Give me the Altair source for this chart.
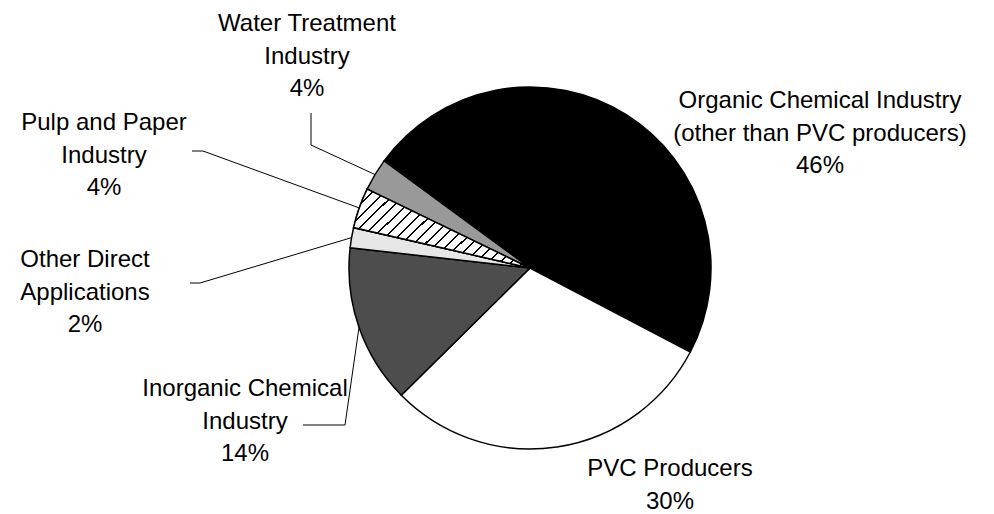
import math
import altair as alt
import pandas as pd

# ---------------- data ----------------
categories = [
    "Organic Chemical Industry",
    "PVC Producers",
    "Inorganic Chemical Industry",
    "Other Direct Applications",
    "Pulp and Paper Industry",
    "Water Treatment Industry",
]
shares = [47.6, 29.9, 14.2, 1.8, 3.6, 2.9]
label_texts = [
    "Organic Chemical Industry\n(other than PVC producers)\n46%",
    "PVC Producers\n30%",
    "Inorganic Chemical\nIndustry\n14%",
    "Other Direct\nApplications\n2%",
    "Pulp and Paper\nIndustry\n4%",
    "Water Treatment\nIndustry\n4%",
]

# ---------------- layout / style ----------------
slice_colors = ["#000000", "#ffffff", "#4d4d4d", "#e6e6e6", "#ffffff", "#999999"]
W, H = 978, 498          # plot area (page has 8px margin)
CX, CY, R = 530, 268, 181  # pie centre / radius in page pixels
START_DEG = 306.3
start_rad = math.radians(START_DEG)

# position of the first text line's centre
label_pos = {
    "Organic Chemical Industry": (820, 101),
    "PVC Producers": (670, 469),
    "Inorganic Chemical Industry": (245, 389),
    "Other Direct Applications": (85, 260),
    "Pulp and Paper Industry": (104, 123),
    "Water Treatment Industry": (307, 24),
}
leader_bends = {
    "Water Treatment Industry": [(311, 145), (311, 113)],
    "Pulp and Paper Industry": [(203, 151), (192, 151)],
    "Other Direct Applications": [(200, 283), (190, 283)],
    "Inorganic Chemical Industry": [(345, 425), (303, 425)],
}

# ---------------- tables ----------------
pie_df = pd.DataFrame({"cat": categories, "share": shares, "idx": list(range(len(categories)))})

total = sum(shares)
rows = []
cum = 0.0
for cat, s in zip(categories, shares):
    mid = cum + s / 2
    cum += s
    if cat in leader_bends:
        a = start_rad + 2 * math.pi * mid / total
        pts = [(CX + R * math.sin(a), CY - R * math.cos(a))] + leader_bends[cat]
        for k, (px, py) in enumerate(pts):
            rows.append({"cat": cat, "ord": k, "px": px, "py": py})
leader_df = pd.DataFrame(rows)

label_df = pd.DataFrame({
    "cat": categories,
    "label": label_texts,
    "px": [label_pos[c][0] for c in categories],
    "py": [label_pos[c][1] for c in categories],
})

# ---------------- scales ----------------
xs = alt.Scale(domain=[8, 8 + W], nice=False, zero=False)
ys = alt.Scale(domain=[8, 8 + H], nice=False, zero=False, reverse=True)
theta_scale = alt.Scale(domain=[0, total], range=[start_rad, start_rad + 2 * math.pi])

# hatch gradient (diagonal thin black lines on white)
N = 22
d = 0.008
stops = []
for k in range(N):
    a0 = k / N
    a1 = (k + 1) / N
    stops += [
        {"offset": a0, "color": "#ffffff"},
        {"offset": a1 - d, "color": "#ffffff"},
        {"offset": a1 - d, "color": "#000000"},
        {"offset": a1, "color": "#000000"},
    ]
hatch = {"gradient": "linear", "x1": 0, "y1": 0, "x2": 1.205, "y2": 0.548, "stops": stops}

base = alt.Chart(pie_df).transform_stack(
    stack="share", groupby=[], as_=["v0", "v1"], sort=[alt.SortField("idx", order="ascending")]
)

arcs = base.mark_arc(radius=R, stroke="black", strokeWidth=1.5, x=CX - 8, y=CY - 8).encode(
    theta=alt.Theta("v0:Q", scale=theta_scale),
    theta2="v1:Q",
    color=alt.Color("cat:N", scale=alt.Scale(domain=categories, range=slice_colors), legend=None),
)

hatched = base.transform_filter(alt.datum.cat == "Pulp and Paper Industry").mark_arc(
    radius=R, stroke="black", strokeWidth=1.5, x=CX - 8, y=CY - 8, fill=hatch
).encode(
    theta=alt.Theta("v0:Q", scale=theta_scale),
    theta2="v1:Q",
)

leaders = alt.Chart(leader_df).mark_line(color="black", strokeWidth=1).encode(
    x=alt.X("px:Q", scale=xs, axis=None),
    y=alt.Y("py:Q", scale=ys, axis=None),
    detail="cat:N",
    order="ord:Q",
)

labels = alt.Chart(label_df).mark_text(
    font="Liberation Sans", fontSize=24, lineHeight=32.5, align="center",
    baseline="middle", lineBreak="\n", color="black"
).encode(
    x=alt.X("px:Q", scale=xs, axis=None),
    y=alt.Y("py:Q", scale=ys, axis=None),
    text="label:N",
)

chart = alt.layer(leaders, arcs, hatched, labels).properties(
    width=W, height=H, padding=0, background="white"
).configure_view(stroke=None)

chart.save("out.html", embed_options={"renderer": "svg", "actions": False})
